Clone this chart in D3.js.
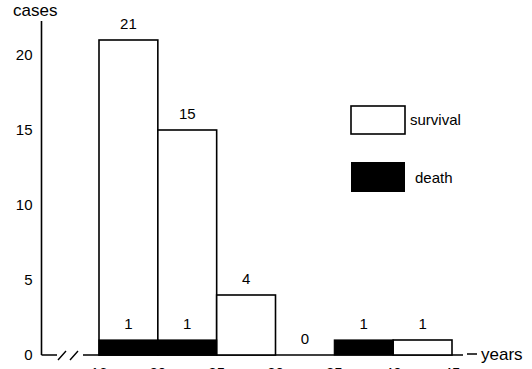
<!DOCTYPE html>
<html>
<head>
<meta charset="utf-8">
<script src="https://cdn.jsdelivr.net/npm/d3@7"></script>
<style>
    body { margin: 0; background: #fff; }
    svg { display: block; font-family: "Liberation Sans", Arial, sans-serif; }
</style>
</head>
<body>
<div class="chart"></div>
<script>
// age groups (bin edges) and counts per bin
const edges = ["16", "20", "25", "30", "35", "40", "45"];
const survival = [21, 15, 4, 0, 0, 1];
const death = [1, 1, 0, 0, 1, 0];
const yTicks = [0, 5, 10, 15, 20];

const width = 532;
const height = 369;

const svg = d3.select(".chart")
    .append("svg")
    .attr("width", width)
    .attr("height", height);

const x = d3.scalePoint()
    .domain(edges)
    .range([99, 452]);

const y = d3.scaleLinear()
    .domain([0, 20])
    .range([355, 55]);

const bins = survival.map((s, i) => ({
    from: edges[i],
    to: edges[i + 1],
    survival: s,
    death: death[i]
}));

// y axis, no tick marks, just labels
const yAxis = svg.append("g")
    .attr("transform", "translate(41.5,0)")
    .call(d3.axisLeft(y).tickValues(yTicks).tickSize(0).tickPadding(9));
yAxis.select(".domain").remove();
yAxis.selectAll("text")
    .style("font-size", "15px")
    .style("font-family", "Liberation Sans, Arial, sans-serif")
    .attr("fill", "#000");

svg.append("line")
    .attr("x1", 41.5).attr("x2", 41.5)
    .attr("y1", 21).attr("y2", y(0))
    .attr("stroke", "#000").attr("stroke-width", 1.6);

svg.append("text")
    .attr("x", 13).attr("y", 16)
    .style("font-size", "17px")
    .text("cases");

// x baseline with break
const base = y(0);
svg.append("path")
    .attr("d", `M41.5,${base}H57 M83,${base}H463 M467,${base - 1}H477`)
    .attr("stroke", "#000").attr("stroke-width", 1.6).attr("fill", "none");
svg.append("path")
    .attr("d", `M58,${base + 5}L66,${base - 4} M70,${base + 5}L78,${base - 4}`)
    .attr("stroke", "#000").attr("stroke-width", 1.4).attr("fill", "none");

svg.append("text")
    .attr("x", 481).attr("y", base + 5)
    .style("font-size", "17px")
    .text("years");

// bottom tick labels (cut off at the picture edge)
svg.selectAll(".xlab")
    .data(edges)
    .enter().append("text")
    .attr("class", "xlab")
    .attr("x", d => x(d))
    .attr("y", base + 23)
    .attr("text-anchor", "middle")
    .style("font-size", "15px")
    .text(d => d);

// survival bars (white)
svg.selectAll(".surv")
    .data(bins.filter(d => d.survival > 0))
    .enter().append("rect")
    .attr("class", "surv")
    .attr("x", d => x(d.from))
    .attr("y", d => y(d.survival))
    .attr("width", d => x(d.to) - x(d.from))
    .attr("height", d => base - y(d.survival))
    .attr("fill", "#fff")
    .attr("stroke", "#000")
    .attr("stroke-width", 1.6);

// death bars (black)
svg.selectAll(".death")
    .data(bins.filter(d => d.death > 0))
    .enter().append("rect")
    .attr("class", "death")
    .attr("x", d => x(d.from))
    .attr("y", d => y(d.death))
    .attr("width", d => x(d.to) - x(d.from))
    .attr("height", d => base - y(d.death))
    .attr("fill", "#000")
    .attr("stroke", "#000")
    .attr("stroke-width", 1.2);

// value labels
const mid = d => (x(d.from) + x(d.to)) / 2;
svg.selectAll(".slab")
    .data(bins.filter(d => d.survival >= d.death))
    .enter().append("text")
    .attr("class", "slab")
    .attr("x", mid)
    .attr("y", d => y(d.survival) - 11)
    .attr("text-anchor", "middle")
    .style("font-size", "15px")
    .text(d => d.survival);

svg.selectAll(".dlab")
    .data(bins.filter(d => d.death > 0))
    .enter().append("text")
    .attr("class", "dlab")
    .attr("x", mid)
    .attr("y", d => y(d.death) - 11)
    .attr("text-anchor", "middle")
    .style("font-size", "15px")
    .text(d => d.death);

// legend
const legend = svg.append("g");
legend.append("rect")
    .attr("x", 351).attr("y", 106).attr("width", 54).attr("height", 28)
    .attr("fill", "#fff").attr("stroke", "#000").attr("stroke-width", 1.6);
legend.append("text")
    .attr("x", 410).attr("y", 125)
    .style("font-size", "15px")
    .text("survival");
legend.append("rect")
    .attr("x", 351).attr("y", 162).attr("width", 54).attr("height", 30)
    .attr("fill", "#000");
legend.append("text")
    .attr("x", 415).attr("y", 183)
    .style("font-size", "15px")
    .text("death");
</script>
</body>
</html>
